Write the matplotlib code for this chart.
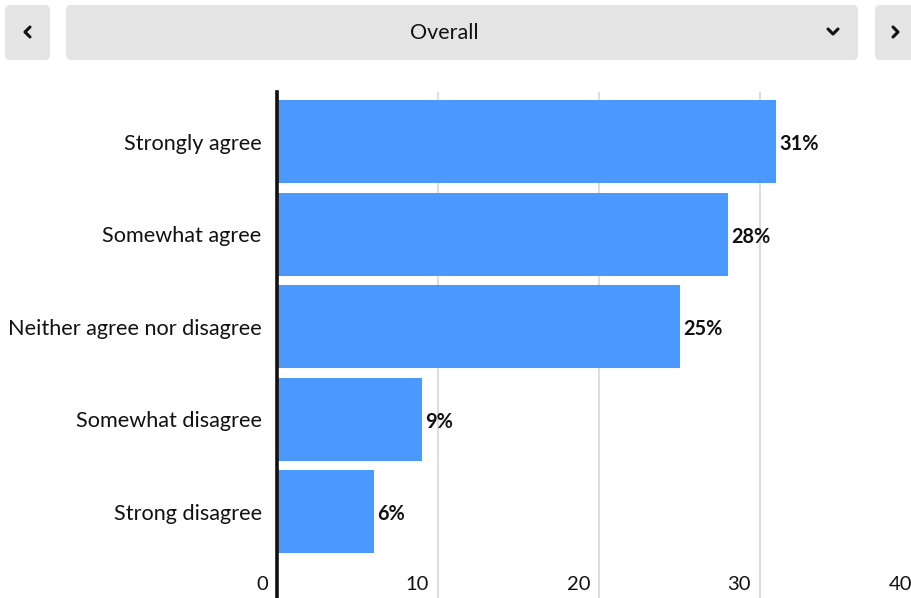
import matplotlib
matplotlib.use("Agg")
import matplotlib.pyplot as plt
from matplotlib.patches import FancyBboxPatch
from matplotlib.transforms import blended_transform_factory, ScaledTranslation

categories = ["Strongly agree", "Somewhat agree", "Neither agree nor disagree",
              "Somewhat disagree", "Strong disagree"]
values = [31, 28, 25, 9, 6]
xticks = [0, 10, 20, 30, 40]
title = "Overall"

W, H = 911, 598
plt.rcParams['font.family'] = ['Lato', 'DejaVu Sans']
fig = plt.figure(figsize=(W / 100, H / 100), dpi=100)

# main axes (pixel-based placement)
x0, x40 = 277, 921
top, bottom = 92, 598
ax = fig.add_axes([x0 / W, 1 - bottom / H, (x40 - x0) / W, (bottom - top) / H])
bar_color = "#4B98FF"
y = list(range(len(categories)))
ax.barh(y, values, height=0.895, color=bar_color, zorder=2)
ax.set_xlim(0, 40)
ax.set_ylim(4.93, -0.535)
for s in ["top", "right", "bottom"]:
    ax.spines[s].set_visible(False)
ax.spines["left"].set_linewidth(2.6)
ax.spines["left"].set_color("#111111")
ax.spines["left"].set_zorder(4)
ax.set_xticks([])
for t in xticks[1:]:
    ax.axvline(t, color="#DDDDDD", lw=1.5, zorder=1)
ax.set_yticks(y)
ax.set_yticklabels(categories, fontsize=15.6, color="#111111")
ax.tick_params(axis="y", length=0, pad=11)

# x tick labels (right-aligned just left of each gridline)
tr = blended_transform_factory(ax.transData, fig.transFigure)
off = ScaledTranslation(-9 / 100, 0, fig.dpi_scale_trans)
for t in xticks:
    ax.text(t, 1 - 584 / H, str(t), transform=tr + off, ha="right", va="center",
            fontsize=14.5, color="#111111", clip_on=False)

# value labels
for yi, v in zip(y, values):
    ax.annotate(f"{v}%", (v, yi), xytext=(2.5, -1.8), textcoords="offset points",
                ha="left", va="center", fontsize=14.3, fontweight="bold", color="#111111")

# top control bar (decoration)
ov = fig.add_axes([0, 0, 1, 1], zorder=-1)
ov.set_xlim(0, W)
ov.set_ylim(H, 0)
ov.axis("off")
grey = "#E4E4E4"
for (bx, bw) in [(5, 45), (66, 792), (875, 60)]:
    ov.add_patch(FancyBboxPatch((bx, 5), bw, 55, boxstyle="round,pad=0,rounding_size=5",
                                fc=grey, ec="none"))
ov.text(444, 33, title, ha="center", va="center", fontsize=15.5, color="#111111")
ck = dict(color="#111111", lw=2.2, solid_capstyle="round", solid_joinstyle="round")
ov.plot([30, 25, 30], [27, 32, 37], **ck)
ov.plot([893, 898, 893], [27, 32, 37], **ck)
ov.plot([828, 833, 838], [29, 34, 29], **ck)

fig.savefig("out.png", dpi=100)
